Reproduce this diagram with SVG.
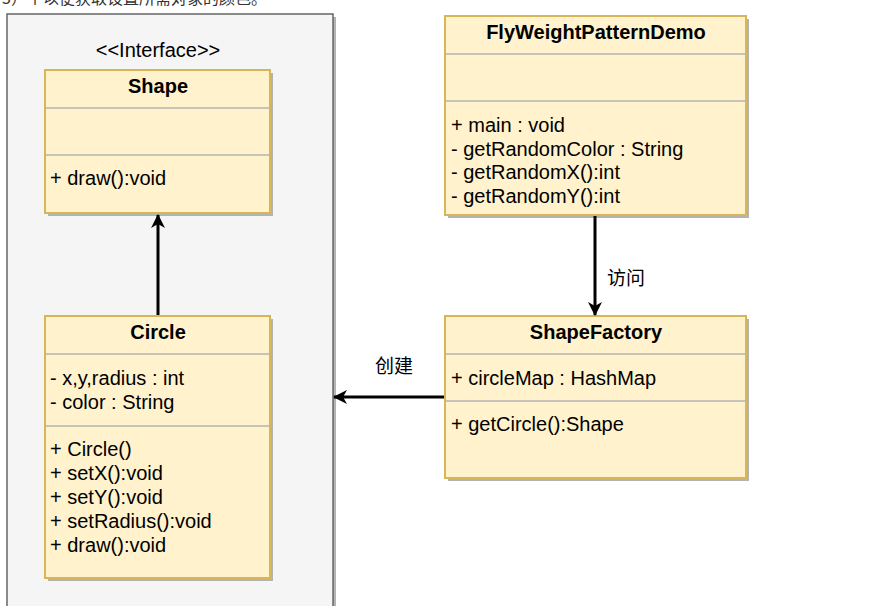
<svg xmlns="http://www.w3.org/2000/svg" width="885" height="606" viewBox="0 0 885 606">
<defs>
<marker id="arrb" viewBox="0 0 14 14" refX="13" refY="7" markerWidth="14" markerHeight="14" markerUnits="userSpaceOnUse" orient="auto">
<path d="M0,0 L14,7 L0,14 L4,7 Z" fill="#000"/>
</marker>
</defs>
<style>
.box{fill:#fff2cc;stroke:#d6b656;stroke-width:2}
.sh{fill:#b3b3b3}
.sep{stroke:#b3b3b3;stroke-width:1.5}
.t{font-family:"Liberation Sans",Arial,sans-serif;font-size:20px;fill:#000}
.b{font-family:"Liberation Sans",Arial,sans-serif;font-size:20px;font-weight:bold;fill:#000;text-anchor:middle}
.cn{font-family:"Noto Sans CJK SC","Liberation Sans",sans-serif;font-size:19px;fill:#000}
.c{fill:none;stroke:#000;stroke-width:3}
</style>
<rect width="885" height="606" fill="#fff"/>
<text x="2" y="4" font-family="Noto Sans CJK SC, sans-serif" font-size="16" fill="#333">3）个以便获取设置所需对象的颜色。</text>
<g id="container">
<rect x="10" y="17" width="326" height="600" fill="#b3b3b3"/>
<rect x="7" y="14" width="326" height="600" fill="#f5f5f5" stroke="#666" stroke-width="1.5"/>
<text x="158" y="57" class="t" text-anchor="middle">&lt;&lt;Interface&gt;&gt;</text>
</g>
<g id="Shape">
<rect x="48" y="73" width="225" height="143" class="sh"/>
<rect x="45" y="70" width="225" height="143" class="box"/>
<line x1="46" y1="108" x2="269" y2="108" class="sep"/>
<line x1="46" y1="155" x2="269" y2="155" class="sep"/>
<text x="158" y="93" class="b">Shape</text>
<text x="50" y="185" class="t">+ draw():void</text>
</g>
<g id="Circle">
<rect x="48" y="319" width="225" height="262" class="sh"/>
<rect x="45" y="316" width="225" height="262" class="box"/>
<line x1="46" y1="354" x2="269" y2="354" class="sep"/>
<line x1="46" y1="426" x2="269" y2="426" class="sep"/>
<text x="158" y="339" class="b">Circle</text>
<text x="50" y="385" class="t">- x,y,radius : int</text>
<text x="50" y="409" class="t">- color : String</text>
<text x="50" y="456" class="t">+ Circle()</text>
<text x="50" y="480" class="t">+ setX():void</text>
<text x="50" y="504" class="t">+ setY():void</text>
<text x="50" y="528" class="t">+ setRadius():void</text>
<text x="50" y="552" class="t">+ draw():void</text>
</g>
<g id="FlyWeightPatternDemo">
<rect x="448" y="19" width="301" height="199" class="sh"/>
<rect x="445" y="16" width="301" height="199" class="box"/>
<line x1="446" y1="54" x2="745" y2="54" class="sep"/>
<line x1="446" y1="101" x2="745" y2="101" class="sep"/>
<text x="596" y="39" class="b">FlyWeightPatternDemo</text>
<text x="451" y="132" class="t">+ main : void</text>
<text x="451" y="156" class="t">- getRandomColor : String</text>
<text x="451" y="179" class="t">- getRandomX():int</text>
<text x="451" y="203" class="t">- getRandomY():int</text>
</g>
<g id="ShapeFactory">
<rect x="448" y="319" width="301" height="162" class="sh"/>
<rect x="445" y="316" width="301" height="162" class="box"/>
<line x1="446" y1="354" x2="745" y2="354" class="sep"/>
<line x1="446" y1="401" x2="745" y2="401" class="sep"/>
<text x="596" y="339" class="b">ShapeFactory</text>
<text x="451" y="385" class="t">+ circleMap : HashMap</text>
<text x="451" y="431" class="t">+ getCircle():Shape</text>
</g>
<g id="connectors">
<line x1="158" y1="315" x2="158" y2="215" class="c" marker-end="url(#arrb)"/>
<line x1="595" y1="216" x2="595" y2="315" class="c" marker-end="url(#arrb)"/>
<text x="607" y="285" class="cn">访问</text>
<line x1="444" y1="397" x2="334" y2="397" class="c" marker-end="url(#arrb)"/>
<text x="375" y="373" class="cn">创建</text>
</g>
</svg>
